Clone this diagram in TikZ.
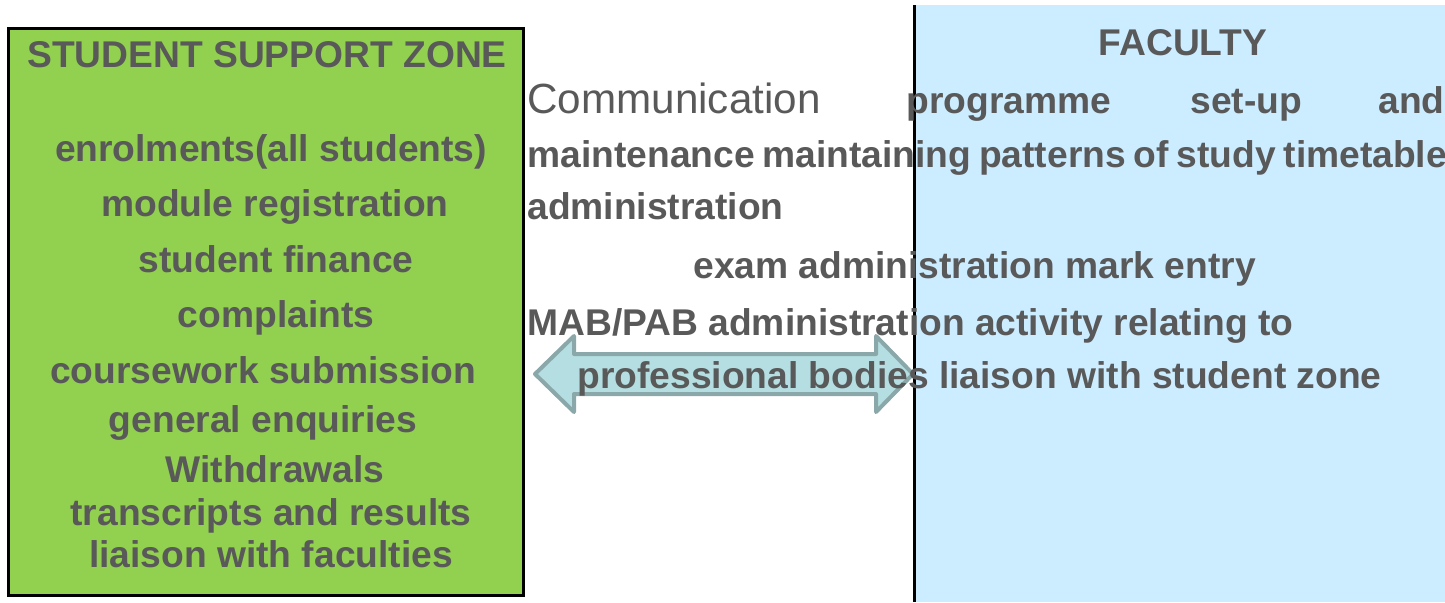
\documentclass[tikz,border=0pt]{standalone}
\usepackage{fontspec}
\setmainfont{Liberation Sans}
\definecolor{txt}{HTML}{595959}
\definecolor{zonegreen}{HTML}{92D050}
\definecolor{facblue}{HTML}{CCECFF}
\definecolor{arrfill}{HTML}{B4DEE1}
\definecolor{arrline}{HTML}{8AA7A9}
\begin{document}
\begin{tikzpicture}[x=0.5pt,y=-0.5pt,
  lbl/.style={inner sep=0pt, text=txt, font=\fontsize{18.6}{22}\selectfont\bfseries},
  ctr/.style={lbl, anchor=base},
  lft/.style={lbl, anchor=base west},
  big/.style={inner sep=0pt, text=txt, anchor=base west, font=\fontsize{21.1}{25}\selectfont}]
\useasboundingbox (0,0) rectangle (1445,602);
\clip (0,0) rectangle (1445,602);

% faculty panel
\fill[facblue] (914,5) rectangle (1445,602);
\draw[line width=1.5pt] (914,5) -- (914,602);

% student support zone panel
\draw[fill=zonegreen, line width=1.5pt] (8.5,28.5) rectangle (523.5,595.5);

% two-way block arrow between the zones
\draw[fill=arrfill, draw=arrline, line width=2pt, line join=round]
  (535,374) -- (574,336) -- (574,354) -- (876,354) -- (876,336) -- (913,374)
  -- (876,412) -- (876,394) -- (574,394) -- (574,412) -- cycle;

% student support zone items
\node[ctr] (sz)  at (267,67)  {STUDENT SUPPORT ZONE};
\node[ctr] (s1)  at (271,161) {enrolments(all students)};
\node[ctr] (s2)  at (275,216) {module registration};
\node[ctr] (s3)  at (276,272) {student finance};
\node[ctr] (s4)  at (276,327) {complaints};
\node[ctr] (s5)  at (263,383) {coursework submission};
\node[ctr] (s6)  at (263,432) {general enquiries};
\node[ctr] (s7)  at (275,482) {Withdrawals};
\node[ctr] (s8)  at (271,525) {transcripts and results};
\node[ctr] (s9)  at (271,567) {liaison with faculties};

% faculty heading and duties
\node[ctr] (fac) at (1183,55) {FACULTY};
\node[big] (com) at (527,113) {Communication};
\node[lft] (f1a) at (906,113) {programme};
\node[lft] (f1b) at (1190,113) {set-up};
\node[lft] (f1c) at (1378,113) {and};
\node[lft] (f2)  at (527,167) {\spaceskip=3.9pt maintenance maintaining patterns of study timetable};
\node[lft] (f3)  at (527,219) {administration};
\node[lft] (f4)  at (693,278) {exam administration mark entry};
\node[lft] (f5)  at (527,335) {MAB/PAB administration activity relating to};
\node[lft] (f6)  at (577,388) {professional bodies liaison with student zone};
\end{tikzpicture}
\end{document}
